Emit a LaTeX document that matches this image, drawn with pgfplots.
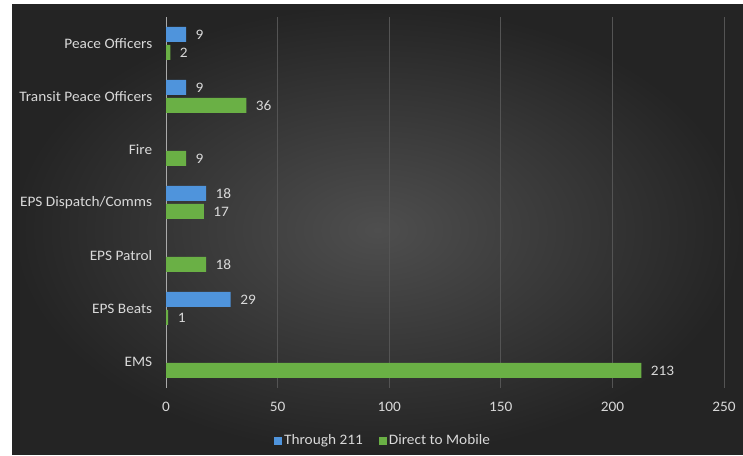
\documentclass[border=0pt]{standalone}
\usepackage{pgfplots}
\pgfplotsset{compat=1.18}
\usepackage{fontspec}
\setmainfont{Carlito}[FakeStretch=1.06]
\definecolor{barblue}{RGB}{79,148,220}
\definecolor{bargreen}{RGB}{106,176,69}
\definecolor{txt}{RGB}{217,217,217}
\definecolor{grid}{RGB}{84,84,84}
\definecolor{axisline}{RGB}{170,170,170}
\begin{document}
\begin{tikzpicture}[x=1bp,y=1bp]
\fill[white] (0,0) rectangle (743,456);
\shade[inner color={rgb,255:red,78;green,78;blue,78}, outer color={rgb,255:red,36;green,36;blue,36}] (12,1) rectangle (743,451);
\begin{axis}[
  at={(166bp,68bp)}, anchor=south west,
  scale only axis, width=558bp, height=371bp,
  xbar, bar width=15bp,
  xmin=0, xmax=250,
  ymin=-0.5, ymax=6.5,
  ytick={0,1,2,3,4,5,6},
  yticklabels={EMS,EPS Beats,EPS Patrol,EPS Dispatch/Comms,Fire,Transit Peace Officers,Peace Officers},
  xtick={0,50,100,150,200,250},
  /pgf/number format/assume math mode=true,
  tick style={draw=none},
  axis line style={draw=none},
  xmajorgrids, major grid style={draw=grid, line width=0.7bp},
  ticklabel style={font=\fontsize{14.5}{16}\selectfont, text=txt},
  yticklabel style={xshift=-6bp},
  xticklabel style={yshift=-11bp},
  nodes near coords,
  nodes near coords style={font=\fontsize{14.5}{16}\selectfont, text=txt, xshift=6bp},
  legend style={at={(0.389,-0.142)}, anchor=center, draw=none, fill=none,
    text=txt, font=\fontsize{14.5}{16}\selectfont, legend columns=2,
    /tikz/every even column/.append style={column sep=14bp}},
  legend image code/.code={\fill[#1] (0bp,-4bp) rectangle (8bp,4bp);},
]
\draw[axisline, line width=1bp] (axis cs:0,-0.5) -- (axis cs:0,6.5);
\addplot[fill=barblue, draw=none, bar shift=9bp] coordinates {(29,1) (18,3) (9,5) (9,6)};
\addplot[fill=bargreen, draw=none, bar shift=-9bp] coordinates {(213,0) (1,1) (18,2) (17,3) (9,4) (36,5) (2,6)};
\legend{Through 211, Direct to Mobile}
\end{axis}
\end{tikzpicture}
\end{document}
